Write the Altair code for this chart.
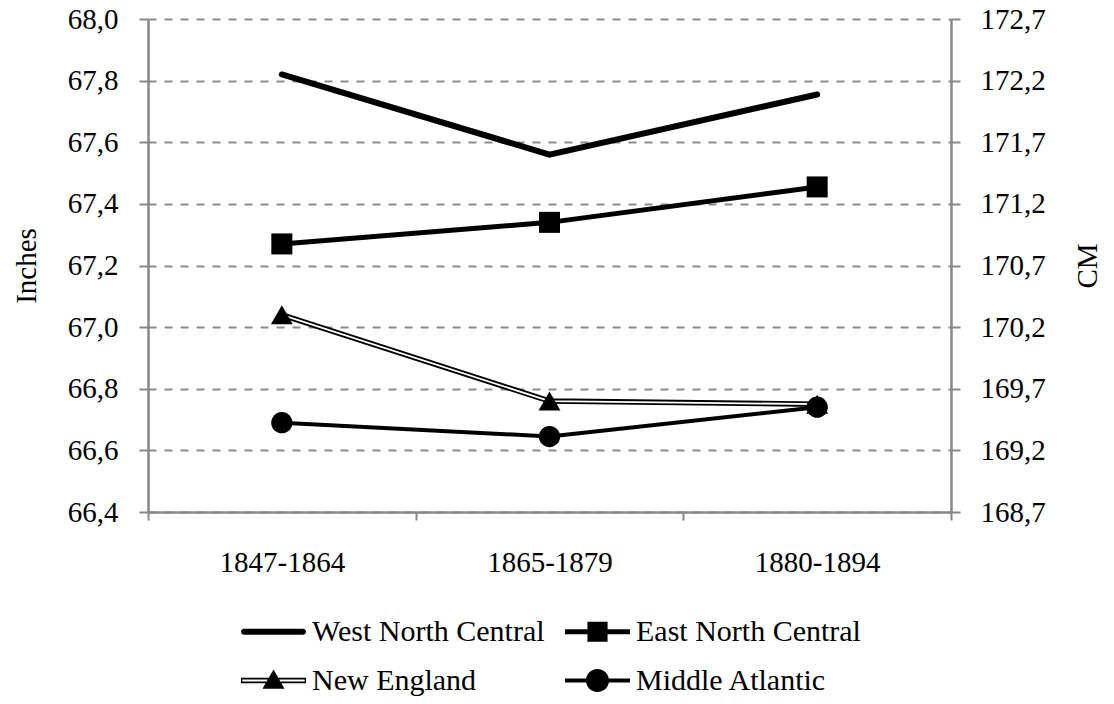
import altair as alt
import pandas as pd

# ---- data ----
categories = ["1847-1864", "1865-1879", "1880-1894"]
series_names = ["West North Central", "East North Central", "New England", "Middle Atlantic"]
west_north_central = [67.82, 67.56, 67.755]
east_north_central = [67.27, 67.34, 67.455]
new_england = [67.04, 66.76, 66.75]
middle_atlantic = [66.69, 66.645, 66.74]
inch_ticks = [66.4, 66.6, 66.8, 67.0, 67.2, 67.4, 67.6, 67.8, 68.0]

rows = []
for name, vals in zip(series_names, [west_north_central, east_north_central, new_england, middle_atlantic]):
    for c, v in zip(categories, vals):
        rows.append({"period": c, "series": name, "inches": v})
df = pd.DataFrame(rows)

FONT = "Liberation Serif"
FS = 29
GRAY = "#878787"

# legend symbols (line + marker) as custom SVG paths, unit = half symbol width
legend_paths = [
    # West North Central: thick line, round caps
    "M-0.908,-0.092 L0.908,-0.092 A0.092,0.092 0 0,1 0.908,0.092 L-0.908,0.092 A0.092,0.092 0 0,1 -0.908,-0.092 Z",
    # East North Central: line + square
    "M-1,-0.077 L1,-0.077 L1,0.077 L-1,0.077 Z M-0.31,-0.31 L0.31,-0.31 L0.31,0.31 L-0.31,0.31 Z",
    # New England: double line + triangle
    "M-1,-0.085 L1,-0.085 L1,0.085 L-1,0.085 Z M-0.96,-0.028 L-0.96,0.028 L0.96,0.028 L0.96,-0.028 Z M0,-0.34 L0.34,0.25 L-0.34,0.25 Z",
    # Middle Atlantic: line + circle
    "M-1,-0.062 L1,-0.062 L1,0.062 L-1,0.062 Z M-0.354,0 A0.354,0.354 0 1,1 0.354,0 A0.354,0.354 0 1,1 -0.354,0 Z",
]

label_in = "replace(format(datum.value, '.1f'), '.', ',')"
label_cm = "replace(format(datum.value * 2.54, '.1f'), '.', ',')"

x_enc = alt.X(
    "period:N",
    sort=categories,
    scale=alt.Scale(type="band", paddingInner=0, paddingOuter=0),
    axis=alt.Axis(title=None, labelAngle=0, tickBand="extent", tickSize=8,
                  labelPadding=28, grid=False),
)
y_scale = alt.Scale(domain=[66.4, 68.0], nice=False, zero=False)
left_axis = alt.Axis(title="Inches", values=inch_ticks, labelExpr=label_in, grid=True,
                     tickSize=9, labelPadding=21, titlePadding=26)
right_axis = alt.Axis(title="CM", orient="right", values=inch_ticks, labelExpr=label_cm,
                      grid=False, tickSize=9, labelPadding=20, titlePadding=57, titleAngle=270)


def y_enc(axis=None):
    if axis is None:
        return alt.Y("inches:Q", scale=y_scale, axis=None)
    return alt.Y("inches:Q", scale=y_scale, axis=axis)


base = alt.Chart(df)


def sel(name):
    return base.transform_filter(alt.datum.series == name)


wnc_line = sel("West North Central").mark_line(
    color="black", strokeWidth=6, strokeCap="round", strokeJoin="miter"
).encode(x=x_enc, y=y_enc(left_axis))

ma_line = sel("Middle Atlantic").mark_line(color="black", strokeWidth=4).encode(
    x=x_enc, y=y_enc(right_axis))

enc_line = sel("East North Central").mark_line(color="black", strokeWidth=5).encode(
    x=x_enc, y=y_enc())
enc_pts = sel("East North Central").mark_point(
    shape="square", filled=True, color="black", size=441, opacity=1
).encode(x=x_enc, y=y_enc())

ne_outer = sel("New England").mark_line(color="black", strokeWidth=5.5).encode(
    x=x_enc, y=y_enc())
ne_inner = sel("New England").mark_line(color="white", strokeWidth=1.8).encode(
    x=x_enc, y=y_enc())
ne_pts = sel("New England").mark_point(
    shape="triangle-up", filled=True, color="black", size=480, opacity=1
).encode(x=x_enc, y=y_enc())

ma_pts = sel("Middle Atlantic").mark_point(
    shape="circle", filled=True, color="black", size=452, opacity=1
).encode(x=x_enc, y=y_enc())

legend_layer = base.mark_point(filled=True, size=0, color="black", strokeWidth=0).encode(
    x=x_enc,
    y=y_enc(),
    shape=alt.Shape(
        "series:N",
        sort=series_names,
        scale=alt.Scale(domain=series_names, range=legend_paths),
        legend=alt.Legend(
            title=None, orient="none", legendX=93, legendY=580, columns=2,
            direction="horizontal",
            columnPadding=20, rowPadding=1, symbolSize=4225,
            symbolFillColor="black", symbolStrokeWidth=0, symbolOpacity=1,
            labelFont=FONT, labelFontSize=30, labelColor="black", labelOffset=6,
            labelLimit=0, padding=0,
        ),
    ),
)

chart = alt.layer(
    wnc_line, ma_line, enc_line, enc_pts, ne_outer, ne_inner, ne_pts, ma_pts, legend_layer
).resolve_axis(y="independent").properties(
    width=803,
    height=493,
    autosize=alt.AutoSizeParams(type="none"),
    padding={"left": 140, "top": 11, "right": 155, "bottom": 184},
).configure_axis(
    domainColor=GRAY, domainWidth=2.5, tickColor=GRAY, tickWidth=2,
    gridColor="#8c8c8c", gridDash=[8, 8], gridWidth=2,
    labelFont=FONT, labelFontSize=FS, labelColor="black",
    titleFont=FONT, titleFontSize=FS, titleFontWeight="normal", titleColor="black",
).configure_view(stroke=None)

chart.save("out.html", embed_options={"renderer": "svg", "actions": False})
